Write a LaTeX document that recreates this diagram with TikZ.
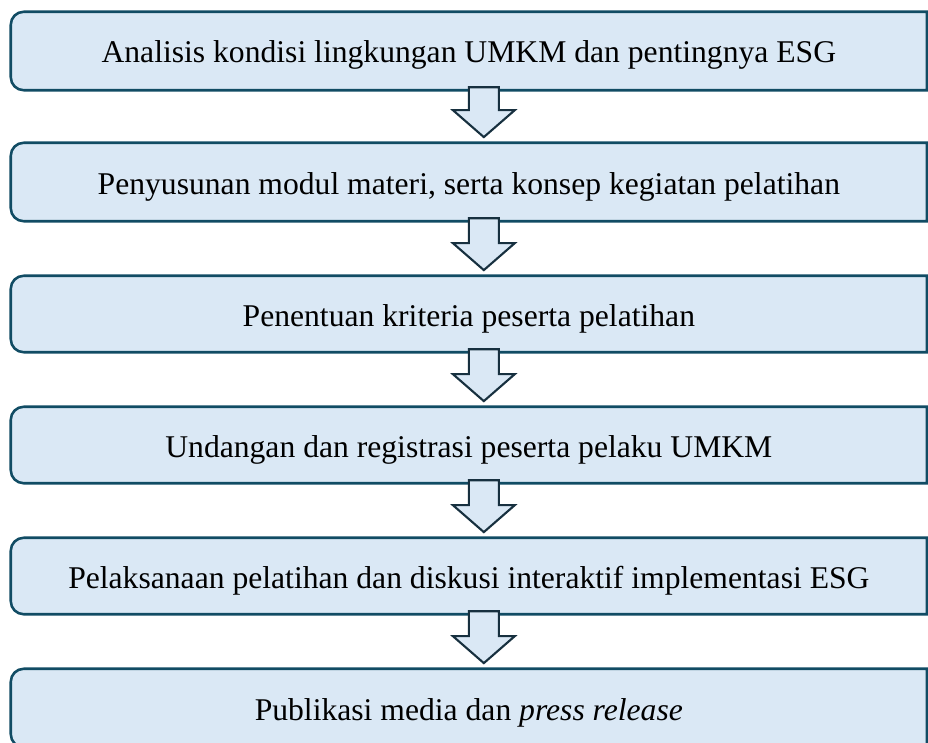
\documentclass[tikz,border=0pt]{standalone}
\usepackage{fontspec}
\setmainfont{Liberation Serif}
\usetikzlibrary{calc,backgrounds}

\begin{document}
\begin{tikzpicture}[line join=round, font=\fontsize{27}{32}\selectfont]
	\definecolor{box fill}{HTML}{DAE8F5}
	\definecolor{box edge}{HTML}{114C64}
	\definecolor{arrow edge}{HTML}{17303F}
	\tikzset{stepbox/.style={minimum width=27.47cm, inner sep=0pt, text height=0.9cm, text depth=0.18cm},
	boxline/.style={fill=box fill, draw=box edge, line width=2.2pt},
	arrowbox/.style={fill=box fill, draw=arrow edge, line width=1.8pt, line join=miter}}
	\def\flowarrow#1#2{
		\draw[arrowbox] ($(#1.south)+(0,0.09)$) -- ($(#1.south)+(0.9,0.09)$)
		-- ($(#2.north)+(0.9,0.98)$) -- ($(#2.north)+(1.38,0.98)$)
		-- ($(#2.north)+(0.45,0.17)$) -- ($(#2.north)+(-0.48,0.98)$)
		-- ($(#2.north)+(0,0.98)$) -- cycle;}
	\useasboundingbox (0,0) rectangle (27.84,-22.26);
	\clip (0,0) rectangle (27.84,-22.26);
	\node[stepbox, minimum height=2.34cm] (b1) at (14.065,-1.53) {Analisis kondisi lingkungan UMKM dan pentingnya ESG};
	\node[stepbox, minimum height=2.34cm] (b2) at (14.065,-5.46) {Penyusunan modul materi, serta konsep kegiatan pelatihan};
	\node[stepbox, minimum height=2.28cm] (b3) at (14.065,-9.42) {Penentuan kriteria peserta pelatihan};
	\node[stepbox, minimum height=2.28cm] (b4) at (14.065,-13.35) {Undangan dan registrasi peserta pelaku UMKM};
	\node[stepbox, minimum height=2.28cm] (b5) at (14.065,-17.28) {Pelaksanaan pelatihan dan diskusi interaktif implementasi ESG};
	\node[stepbox, minimum height=2.34cm] (b6) at (14.065,-21.24) {Publikasi media dan \textit{press release}};
	% boxes: rounded on the left, cut off on the right
	\begin{scope}[on background layer]
		\foreach \i in {1,...,6}
		\draw[boxline] (b\i.south) [rounded corners=0.39cm] -- (b\i.south west)
		-- (b\i.north west) -- (b\i.north) [sharp corners] -- (b\i.north east)
		-- (b\i.south east) -- cycle;
	\end{scope}
	\flowarrow{b1}{b2}
	\flowarrow{b2}{b3}
	\flowarrow{b3}{b4}
	\flowarrow{b4}{b5}
	\flowarrow{b5}{b6}
\end{tikzpicture}
\end{document}
